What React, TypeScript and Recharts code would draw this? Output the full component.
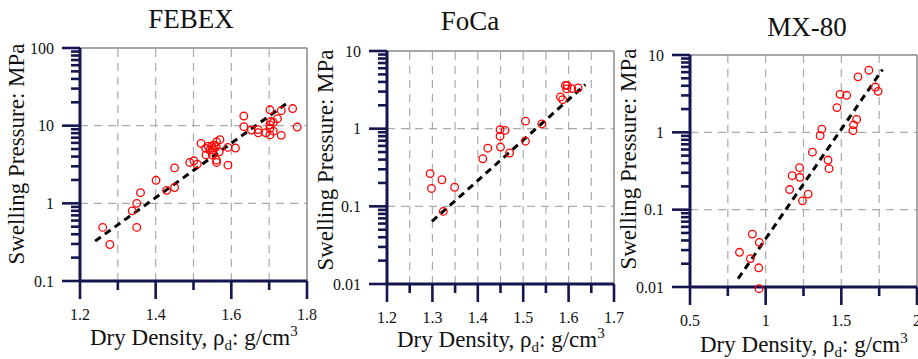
import React from 'react';
import { ScatterChart, Scatter, XAxis, YAxis, ReferenceLine } from 'recharts';

const FONT = '"Liberation Serif", "Times New Roman", serif';

// ---------------- FEBEX ----------------
const febexDensity = [
  1.26, 1.279, 1.338, 1.35, 1.35, 1.36, 1.401, 1.429, 1.45, 1.45,
  1.49, 1.501, 1.51, 1.52, 1.532, 1.533, 1.539, 1.543, 1.548, 1.554,
  1.552, 1.55, 1.56, 1.561, 1.561, 1.561, 1.57, 1.568, 1.591, 1.591,
  1.611, 1.633, 1.633, 1.653, 1.671, 1.671, 1.691, 1.702, 1.702, 1.702,
  1.702, 1.704, 1.711, 1.711, 1.722, 1.732, 1.732, 1.762, 1.774,
];
const febexPressure = [
  0.49, 0.295, 0.8, 1.0, 0.49, 1.37, 1.98, 1.47, 1.6, 2.86,
  3.36, 3.53, 3.2, 5.9, 5.1, 4.2, 5.45, 4.85, 5.45, 5.6,
  4.85, 4.2, 5.35, 6.2, 3.6, 3.36, 6.6, 4.6, 5.25, 3.1,
  5.15, 13.3, 9.7, 8.8, 8.9, 8.1, 8.1, 16, 10.2, 9.2,
  7.6, 11.3, 8.5, 11.0, 12.3, 15.6, 7.5, 16.6, 9.6,
];
const febexFitDensity = [1.24, 1.753];
const febexFitPressure = [0.326, 20.4];
const febexXTicks = [1.2, 1.3, 1.4, 1.5, 1.6, 1.7, 1.8];
const febexXLabels = [1.2, 1.4, 1.6, 1.8];
const febexXGrid = [1.3, 1.4, 1.5, 1.6, 1.7];
const febexYDecades = [0.1, 1, 10, 100];

// ---------------- FoCa ----------------
const focaDensity = [
  1.295, 1.298, 1.321, 1.324, 1.349, 1.411, 1.422, 1.449, 1.46, 1.449,
  1.45, 1.47, 1.505, 1.505, 1.541, 1.582, 1.587, 1.593, 1.597, 1.596,
  1.607, 1.621,
];
const focaPressure = [
  0.264, 0.17, 0.22, 0.086, 0.176, 0.41, 0.56, 0.97, 0.95, 0.8,
  0.58, 0.486, 1.25, 0.69, 1.15, 2.56, 2.36, 3.6, 3.6, 3.25,
  3.28, 3.34,
];
const focaFitDensity = [1.299, 1.637];
const focaFitPressure = [0.064, 3.69];
const focaXTicks = [1.2, 1.25, 1.3, 1.35, 1.4, 1.45, 1.5, 1.55, 1.6, 1.65, 1.7];
const focaXLabels = [1.2, 1.3, 1.4, 1.5, 1.6, 1.7];
const focaXGrid = [1.25, 1.3, 1.35, 1.4, 1.45, 1.5, 1.55, 1.6, 1.65];
const focaYDecades = [0.01, 0.1, 1, 10];

// ---------------- MX-80 ----------------
const mxDensity = [
  0.827, 0.899, 0.912, 0.958, 0.954, 0.956, 1.158, 1.175, 1.224, 1.226,
  1.243, 1.281, 1.309, 1.36, 1.371, 1.412, 1.419, 1.471, 1.491, 1.535,
  1.577, 1.581, 1.601, 1.61, 1.682, 1.724, 1.743,
];
const mxPressure = [
  0.0281, 0.0233, 0.0483, 0.0378, 0.0177, 0.0095, 0.182, 0.275, 0.349, 0.262,
  0.13, 0.159, 0.554, 0.906, 1.1, 0.438, 0.339, 2.09, 3.1, 3.01,
  1.05, 1.25, 1.47, 5.22, 6.36, 3.85, 3.39,
];
const mxFitDensity = [0.818, 1.772];
const mxFitPressure = [0.0128, 6.49];
const mxXTicks = [0.5, 0.75, 1, 1.25, 1.5, 1.75, 2];
const mxXLabels = [0.5, 1, 1.5, 2];
const mxXGrid = [0.75, 1, 1.25, 1.5, 1.75];
const mxYDecades = [0.01, 0.1, 1, 10];

const titles = ['FEBEX', 'FoCa', 'MX-80'];

function withMinorTicks(decades: number[]): number[] {
  const out: number[] = [];
  decades.forEach((d, i) => {
    out.push(d);
    if (i < decades.length - 1) {
      for (let k = 2; k <= 9; k++) out.push(+(d * k).toPrecision(6));
    }
  });
  return out;
}

const isIn = (v: number, arr: number[]) => arr.some((a) => Math.abs(a - v) < 1e-6);
const fmt = (v: number) => String(+v.toPrecision(6));

type Cfg = {
  left: number; right: number; top: number; bottom: number;
  density: number[]; pressure: number[];
  fitD: number[]; fitP: number[];
  xTicks: number[]; xLabels: number[]; xGrid: number[];
  yDecades: number[];
};

const panels: Cfg[] = [
  { left: 80, right: 307, top: 48, bottom: 281, density: febexDensity, pressure: febexPressure,
    fitD: febexFitDensity, fitP: febexFitPressure, xTicks: febexXTicks, xLabels: febexXLabels,
    xGrid: febexXGrid, yDecades: febexYDecades },
  { left: 387, right: 614, top: 51, bottom: 284, density: focaDensity, pressure: focaPressure,
    fitD: focaFitDensity, fitP: focaFitPressure, xTicks: focaXTicks, xLabels: focaXLabels,
    xGrid: focaXGrid, yDecades: focaYDecades },
  { left: 690, right: 917, top: 55, bottom: 287, density: mxDensity, pressure: mxPressure,
    fitD: mxFitDensity, fitP: mxFitPressure, xTicks: mxXTicks, xLabels: mxXLabels,
    xGrid: mxXGrid, yDecades: mxYDecades },
];

const AXIS_W = 80;
const H = 359;
const RIGHT_PAD = 14;
const MINOR = 9;
const MAJOR = 18;
const AXIS_COLOR = '#151550';

const XTick = (props: any) => {
  const x = Number(props.x);
  const y = Number(props.y);
  const v = Number(props.payload.value);
  if (!isIn(v, props.labels)) return <g />;
  return (
    <g>
      <line x1={x} x2={x} y1={y} y2={y + (MAJOR - MINOR)} stroke={AXIS_COLOR} strokeWidth={2.6} />
      <text x={x} y={y + 39 - MINOR} textAnchor="middle" fontSize={16} fontFamily={FONT} fill="#111111">
        {fmt(v)}
      </text>
    </g>
  );
};

const YTick = (props: any) => {
  const x = Number(props.x);
  const y = Number(props.y);
  const v = Number(props.payload.value);
  if (!isIn(v, props.decades)) return <g />;
  return (
    <g>
      <line x1={x - (MAJOR - MINOR)} x2={x} y1={y} y2={y} stroke={AXIS_COLOR} strokeWidth={2.6} />
      <text x={x - (MAJOR - MINOR) - 8} y={y} dy="0.35em" textAnchor="end" fontSize={16} fontFamily={FONT} fill="#111111">
        {fmt(v)}
      </text>
    </g>
  );
};

const Dot = (props: any) => {
  const { cx, cy } = props;
  if (cx == null || cy == null) return <g />;
  return <circle cx={cx} cy={cy} r={3.8} fill="none" stroke="#ff0000" strokeWidth={1.3} />;
};

function Panel({ cfg }: { cfg: Cfg }) {
  const width = AXIS_W + (cfg.right - cfg.left) + RIGHT_PAD;
  const data = cfg.density.map((d, i) => ({ x: d, y: cfg.pressure[i] }));
  const xDomain = [cfg.xTicks[0], cfg.xTicks[cfg.xTicks.length - 1]];
  const yDomain = [cfg.yDecades[0], cfg.yDecades[cfg.yDecades.length - 1]];
  const yTicks = withMinorTicks(cfg.yDecades);
  const gridStyle = { stroke: '#aaaaaa', strokeWidth: 1.2, strokeDasharray: '8 6' };
  return (
    <div className="noclip" style={{ position: 'absolute', left: cfg.left - AXIS_W, top: 0 }}>
      <ScatterChart width={width} height={H} margin={{ top: cfg.top, right: RIGHT_PAD, left: 0, bottom: 0 }}>
        <XAxis
          type="number"
          dataKey="x"
          domain={xDomain}
          ticks={cfg.xTicks}
          interval={0}
          height={H - cfg.bottom}
          tickSize={MINOR}
          tickMargin={0}
          stroke={AXIS_COLOR}
          tickLine={{ stroke: AXIS_COLOR, strokeWidth: 2.6 }}
          axisLine={{ stroke: AXIS_COLOR, strokeWidth: 3 }}
          tick={(p: any) => <XTick {...p} labels={cfg.xLabels} />}
        />
        <YAxis
          type="number"
          dataKey="y"
          scale="log"
          domain={yDomain}
          ticks={yTicks}
          interval={0}
          width={AXIS_W}
          allowDataOverflow
          tickSize={MINOR}
          tickMargin={0}
          stroke={AXIS_COLOR}
          tickLine={{ stroke: AXIS_COLOR, strokeWidth: 2.6 }}
          axisLine={{ stroke: AXIS_COLOR, strokeWidth: 3 }}
          tick={(p: any) => <YTick {...p} decades={cfg.yDecades} />}
        />
        {cfg.xGrid.map((g) => (
          <ReferenceLine key={'vx' + g} x={g} {...gridStyle} />
        ))}
        {cfg.yDecades.slice(1, -1).map((g) => (
          <ReferenceLine key={'hy' + g} y={g} {...gridStyle} />
        ))}
        <ReferenceLine y={yDomain[1]} stroke="#8a8a8a" strokeWidth={1.5} />
        <ReferenceLine x={xDomain[1]} stroke="#8a8a8a" strokeWidth={1.5} />
        <ReferenceLine
          segment={[
            { x: cfg.fitD[0], y: cfg.fitP[0] },
            { x: cfg.fitD[1], y: cfg.fitP[1] },
          ]}
          stroke="#000000"
          strokeWidth={3}
          strokeDasharray="7 5"
        />
        <Scatter data={data} shape={<Dot />} isAnimationActive={false} />
      </ScatterChart>
    </div>
  );
}

const yTitlePos = [
  { x: 24, y: 154 },
  { x: 333, y: 160 },
  { x: 636, y: 159 },
];
const xTitleBase = [345, 347, 352];
const titlePos = [
  { x: 191, y: 28 },
  { x: 470, y: 30 },
  { x: 807, y: 36 },
];

export default function App() {
  return (
    <div style={{ position: 'absolute', left: 0, top: 0, width: 918, height: H, background: '#fff' }}>
      <style>{'.noclip .recharts-scatter, .noclip g[clip-path]{clip-path:none !important;}'}</style>
      {panels.map((p, i) => (
        <Panel key={i} cfg={p} />
      ))}
      <svg width={918} height={H} style={{ position: 'absolute', left: 0, top: 0, pointerEvents: 'none' }}>
        {panels.map((p, i) => (
          <g key={i}>
            <text x={titlePos[i].x} y={titlePos[i].y} textAnchor="middle" fontSize={27} fontFamily={FONT} fill="#111111">
              {titles[i]}
            </text>
            <text
              x={yTitlePos[i].x}
              y={yTitlePos[i].y}
              textAnchor="middle"
              fontSize={23}
              fontFamily={FONT}
              fill="#111111"
              transform={`rotate(-90 ${yTitlePos[i].x} ${yTitlePos[i].y})`}
            >
              Swelling Pressure: MPa
            </text>
            <text x={p.left + 10} y={xTitleBase[i]} fontSize={23} fontFamily={FONT} fill="#111111">
              Dry Density, ρ
              <tspan fontSize={15} dy={5}>d</tspan>
              <tspan dy={-5}>: g/cm</tspan>
              <tspan fontSize={15} dy={-9}>3</tspan>
            </text>
          </g>
        ))}
      </svg>
    </div>
  );
}
